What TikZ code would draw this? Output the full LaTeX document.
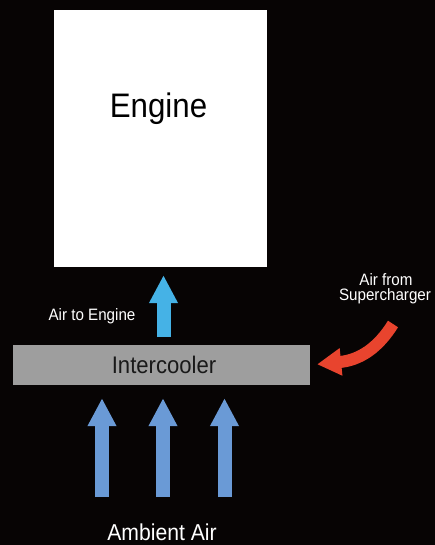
\documentclass[tikz,border=0pt]{standalone}
\usepackage{fontspec}
\setmainfont[FakeStretch=0.92]{Liberation Sans}
\usetikzlibrary{arrows.meta}
\definecolor{bg}{HTML}{070404}
\definecolor{skyarrow}{HTML}{45B2E6}
\definecolor{ambarrow}{HTML}{6A9AD6}
\definecolor{redarrow}{HTML}{E8442E}
\definecolor{coolgray}{HTML}{9E9E9E}
\begin{document}
\begin{tikzpicture}[x=1pt,y=-1pt,
  box/.style={rectangle, inner sep=0pt, draw=none},
  lbl/.style={anchor=base, inner sep=0pt, text=white},
  blockup/.style={line width=14pt, -{Triangle[length=28pt,width=27pt]}},
  redflow/.style={draw=redarrow, line width=12pt, -{Triangle[length=24pt,width=26pt]}}
]
\fill[bg] (0,0) rectangle (435,545);
\useasboundingbox (0,0) rectangle (435,545);

% Engine
\node[box, fill=white, minimum width=213pt, minimum height=257pt] (engine) at (160.5,138.5) {};
\node[anchor=base, inner sep=0pt, font=\fontsize{34}{40}\selectfont] (engtext) at (158.5,118) {Engine};

% Intercooler
\node[box, fill=coolgray, minimum width=297pt, minimum height=40pt,
      font=\fontsize{24}{28}\selectfont, text=black!90] (inter) at (161.5,365) {\hspace{5pt}Intercooler};

% Air to engine
\coordinate (a2e) at (163.5,337);
\draw[blockup, draw=skyarrow, shorten >=8pt] (a2e) -- (a2e |- engine.south);
\node[lbl, font=\fontsize{16.5}{19}\selectfont] (a2etext) at (92,320) {Air to Engine};

% Ambient air
\coordinate (amb1) at (102,497);
\coordinate (amb2) at (163,497);
\coordinate (amb3) at (224.5,497);
\foreach \c in {amb1,amb2,amb3}
  \draw[blockup, draw=ambarrow, shorten >=13pt] (\c) -- (\c |- inter.south);
\node[lbl, font=\fontsize{23}{27}\selectfont] (ambtext) at (162,540.5) {Ambient Air};

% Air from supercharger
\coordinate (sc) at (393,324);
\draw[redflow, shorten >=7pt] (sc) .. controls (378,348) and (360,360) .. (inter.east);
\node[lbl, font=\fontsize{16.5}{19}\selectfont] (sctext1) at (386,285) {Air from};
\node[lbl, font=\fontsize{16.5}{19}\selectfont] (sctext2) at (385,300) {Supercharger};
\end{tikzpicture}
\end{document}
